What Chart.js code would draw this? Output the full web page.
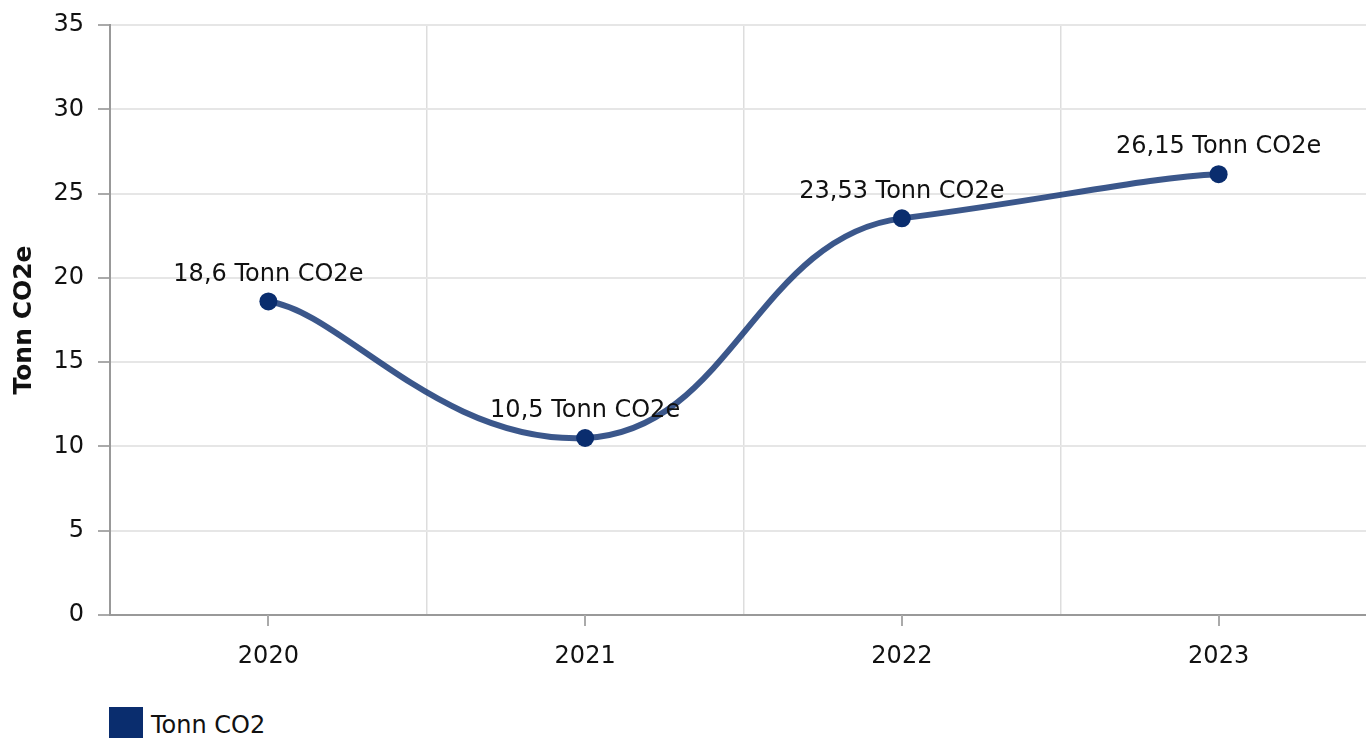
<!DOCTYPE html>
<html>
<head>
<meta charset="utf-8">
<script src="https://cdn.jsdelivr.net/npm/chart.js@4/dist/chart.umd.min.js"></script>
<style>
  html, body { margin: 0; padding: 0; background: #fff; overflow: hidden; width: 1366px; height: 738px; }
  #wrap { position: relative; width: 1386px; height: 738px; }
  #legend { position: absolute; left: 109px; top: 707px; font: 24px "DejaVu Sans", sans-serif; color: #111; white-space: nowrap; }
  #legend .box { display: inline-block; width: 34px; height: 34px; background: #0a2d6e; vertical-align: top; margin-right: 8px; }
  #legend .txt { display: inline-block; line-height: 36px; vertical-align: top; }
</style>
</head>
<body>
<div id="wrap">
  <canvas id="myChart" width="1386" height="680"></canvas>
  <div id="legend"><span class="box"></span><span class="txt">Tonn CO2</span></div>
</div>
<script>
// data
const years = ['2020', '2021', '2022', '2023'];
const tonnCO2 = [18.6, 10.5, 23.53, 26.15];
const seriesName = 'Tonn CO2';
const unitLabel = 'Tonn CO2e';
const yTicks = [0, 5, 10, 15, 20, 25, 30, 35];

const FONT = '"DejaVu Sans", sans-serif';
// separate x / y smoothing for the curve (control point = p +/- s * (next - prev))
const SMOOTH_X = 0.23;
const SMOOTH_Y = 0.07;

// replace chart.js control points with a x/y tension spline
const xySpline = {
  id: 'xySpline',
  beforeDatasetDraw(chart, args) {
    const meta = args.meta;
    if (!meta.dataset || !meta.dataset.updateControlPoints) return;
    meta.dataset.updateControlPoints(chart.chartArea, 'x');
    const pts = meta.data;
    pts.forEach(function (p, i) {
      const prev = pts[i - 1] || p;
      const next = pts[i + 1] || p;
      const dx = next.x - prev.x;
      const dy = next.y - prev.y;
      p.cp1x = p.x - SMOOTH_X * dx;
      p.cp1y = p.y - SMOOTH_Y * dy;
      p.cp2x = p.x + SMOOTH_X * dx;
      p.cp2y = p.y + SMOOTH_Y * dy;
    });
  }
};

// labels above each point, e.g. "18,6 Tonn CO2e"
const pointLabels = {
  id: 'pointLabels',
  afterDatasetsDraw(chart) {
    const ctx = chart.ctx;
    const meta = chart.getDatasetMeta(0);
    ctx.save();
    ctx.font = '24px ' + FONT;
    ctx.fillStyle = '#111';
    ctx.textAlign = 'center';
    ctx.textBaseline = 'middle';
    meta.data.forEach(function (pt, i) {
      const txt = String(tonnCO2[i]).replace('.', ',') + ' ' + unitLabel;
      ctx.fillText(txt, pt.x, pt.y - 27);
    });
    ctx.restore();
  }
};

// small tick marks under each year (grid lines sit between years)
const xTickMarks = {
  id: 'xTickMarks',
  afterDraw(chart) {
    const ctx = chart.ctx;
    const x = chart.scales.x;
    const bottom = chart.chartArea.bottom;
    ctx.save();
    ctx.strokeStyle = '#aaa';
    ctx.lineWidth = 2;
    years.forEach(function (y, i) {
      const px = Math.round(x.getPixelForTick(i));
      ctx.beginPath();
      ctx.moveTo(px, bottom);
      ctx.lineTo(px, bottom + 11);
      ctx.stroke();
    });
    ctx.restore();
  }
};

new Chart(document.getElementById('myChart'), {
  type: 'line',
  data: {
    labels: years,
    datasets: [{
      label: seriesName,
      data: tonnCO2,
      borderColor: 'rgba(10,45,110,0.8)',
      borderWidth: 6,
      tension: 0.4,
      pointRadius: 9,
      pointHoverRadius: 9,
      pointBackgroundColor: '#0a2d6e',
      pointBorderColor: '#0a2d6e',
      pointBorderWidth: 0,
      fill: false
    }]
  },
  options: {
    responsive: false,
    animation: false,
    events: [],
    layout: { padding: { top: 25, right: 0, left: 0, bottom: 0 } },
    plugins: {
      legend: { display: false },
      tooltip: { enabled: false }
    },
    scales: {
      x: {
        offset: true,
        grid: { offset: true, color: '#ddd', lineWidth: 1.5, drawTicks: false },
        border: { color: '#999', width: 2 },
        ticks: { padding: 27, color: '#111', font: { family: FONT, size: 24 } },
        afterFit(scale) { scale.height = 65; }
      },
      y: {
        min: 0,
        max: 35,
        afterBuildTicks(scale) { scale.ticks = yTicks.map(v => ({ value: v })); },
        grid: { color: '#e6e6e6', lineWidth: 2, tickColor: '#aaa', tickLength: 12 },
        border: { color: '#999', width: 2 },
        ticks: { padding: 14, color: '#111', font: { family: FONT, size: 24 } },
        title: {
          display: true,
          text: unitLabel,
          color: '#111',
          font: { family: FONT, size: 25, weight: 'bold' },
          padding: { top: 9, bottom: 0 }
        },
        afterFit(scale) {
          scale.width = 110;
          scale.paddingTop = 16;
          scale.paddingBottom = 16;
        }
      }
    }
  },
  plugins: [xySpline, pointLabels, xTickMarks]
});
</script>
</body>
</html>
